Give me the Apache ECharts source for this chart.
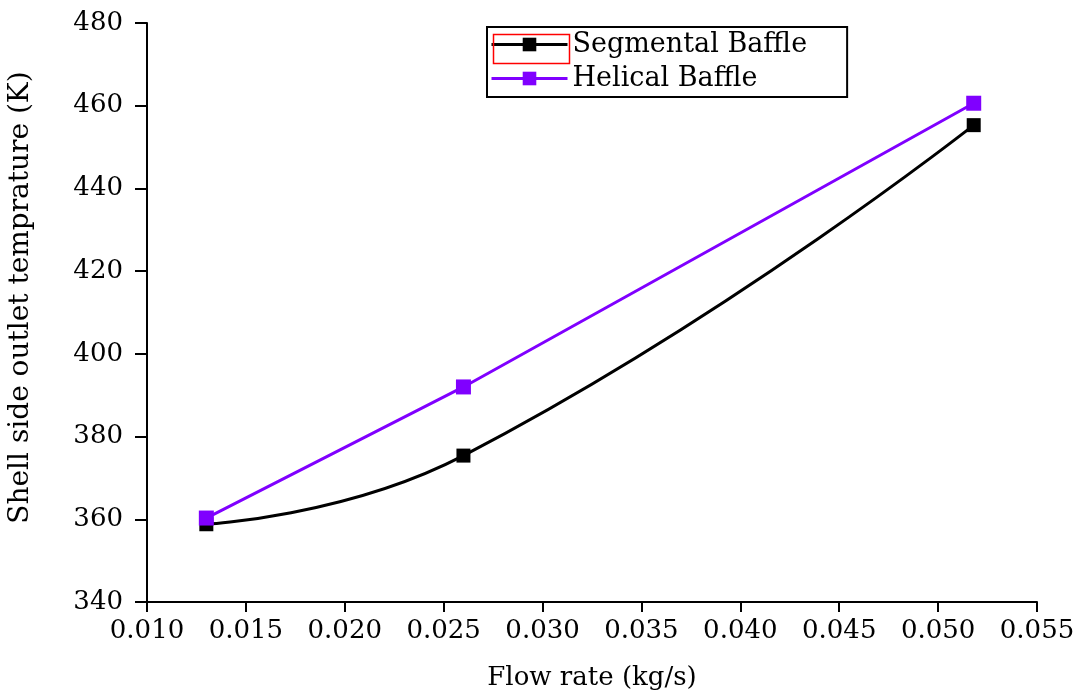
<!DOCTYPE html>
<html>
<head>
<meta charset="utf-8">
<script src="https://cdn.jsdelivr.net/npm/echarts@6/dist/echarts.min.js"></script>
<style>
html,body{margin:0;padding:0;background:#fff;}
#chart{width:1077px;height:692px;}
</style>
</head>
<body>
<div id="chart"></div>
<script>
var flowRate = [0.013, 0.026, 0.0518];
var segmentalBaffle = [358.8, 375.4, 455.3];
var helicalBaffle = [360.3, 392.0, 460.6];
var seriesNames = ['Segmental Baffle', 'Helical Baffle'];
var xAxisName = 'Flow rate (kg/s)';
var yAxisName = 'Shell side outlet temprature (K)';

var FONT = 'DejaVu Serif';
var chart = echarts.init(document.getElementById('chart'));
function pairs(xs, ys){ return xs.map(function(x,i){ return [x, ys[i]]; }); }

chart.setOption({
  animation: false,
  backgroundColor: '#fff',
  grid: {left: 147, right: 40, top: 23, bottom: 90, outerBoundsMode: 'none', containLabel: false},
  legend: {
    orient: 'vertical',
    left: 487, top: 27,
    padding: [4, 40, 5, 3],
    itemGap: 7,
    itemWidth: 76,
    itemHeight: 17,
    borderColor: '#000',
    borderWidth: 2,
    borderRadius: 0,
    lineStyle: {width: 3},
    textStyle: {fontFamily: FONT, fontSize: 27, color: '#000'},
    data: seriesNames
  },
  xAxis: {
    type: 'value',
    min: 0.010, max: 0.055, interval: 0.005,
    name: xAxisName,
    nameLocation: 'middle',
    nameGap: 63,
    nameTextStyle: {fontFamily: FONT, fontSize: 26, color: '#000'},
    axisLine: {show: true, onZero: false, lineStyle: {color: '#000', width: 2}},
    axisTick: {show: true, length: 10, lineStyle: {color: '#000', width: 2}},
    axisLabel: {fontFamily: FONT, fontSize: 26, color: '#000', margin: 16,
      formatter: function(v){ return v.toFixed(3); }},
    splitLine: {show: false}
  },
  yAxis: {
    type: 'value',
    min: 340, max: 480, interval: 20,
    name: yAxisName,
    nameLocation: 'middle',
    nameGap: 112,
    nameTextStyle: {fontFamily: FONT, fontSize: 28, color: '#000', padding: [0, 0, 0, 30]},
    axisLine: {show: true, lineStyle: {color: '#000', width: 2}},
    axisTick: {show: true, length: 12, lineStyle: {color: '#000', width: 2}},
    axisLabel: {fontFamily: FONT, fontSize: 26, color: '#000', margin: 24},
    splitLine: {show: false}
  },
  series: [
    {
      name: seriesNames[0], type: 'line', smooth: 0.5,
      data: pairs(flowRate, segmentalBaffle),
      symbol: 'rect', symbolSize: 14,
      lineStyle: {color: '#000', width: 3},
      itemStyle: {color: '#000'},
      z: 2
    },
    {
      name: seriesNames[1], type: 'line',
      data: pairs(flowRate, helicalBaffle),
      symbol: 'rect', symbolSize: 15,
      lineStyle: {color: '#8000ff', width: 3},
      itemStyle: {color: '#8000ff'},
      z: 3
    }
  ],
  graphic: [{
    type: 'rect', left: 491, top: 32,
    shape: {width: 76, height: 29},
    style: {fill: 'none', stroke: '#ff0000', lineWidth: 1.5},
    z: 100
  }]
});
</script>
</body>
</html>
